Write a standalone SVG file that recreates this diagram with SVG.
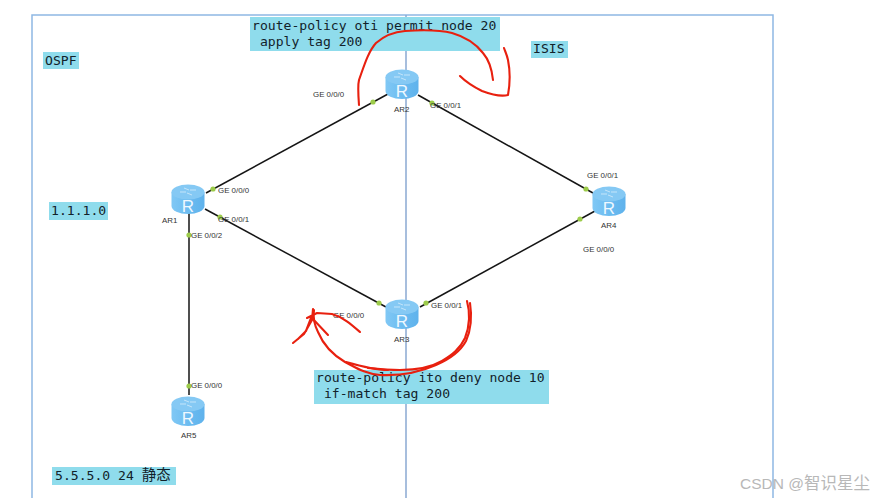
<svg xmlns="http://www.w3.org/2000/svg" width="874" height="498" viewBox="0 0 874 498">
<style>
.frame{stroke:#8fb8e4;stroke-width:1.5;fill:none}
.box{fill:#8fdcec}
.mono{font-family:"DejaVu Sans Mono","Liberation Mono","Noto Sans CJK SC",monospace;font-size:13.1px;fill:#12222a}
.cjk{font-size:14.5px}
.lbl{font-family:"Liberation Sans",Arial,sans-serif;font-size:7.9px;fill:#333}
.link{stroke:#151515;stroke-width:1.5;fill:none}
.dot{fill:#9ccb4a}
.red{stroke:#e8200f;stroke-width:2.1;fill:none;stroke-linecap:round;stroke-linejoin:round}
.body{fill:url(#cyl)}
.top{fill:#85c9f4}
.r{font-family:"Liberation Sans",Arial,sans-serif;font-size:17px;fill:#eef8ff;text-anchor:middle}
.swirl{stroke:#c4e5fa;stroke-width:1;fill:none}
.wm{font-family:"Liberation Sans","Noto Sans CJK SC",sans-serif;font-size:15.500px;fill:#b8b8b8}
.wmc{font-size:16.500px}
</style>
<defs>
<linearGradient id="cyl" x1="0" x2="1" y1="0" y2="0"><stop offset="0" stop-color="#80c8f5"/><stop offset=".5" stop-color="#6cbcf0"/><stop offset="1" stop-color="#5fb2ec"/></linearGradient>
<g id="router">
<path class="body" d="M-16.500-7V7A16.500 8 0 0 0 16.500 7V-7Z"/>
<ellipse class="top" cx="0" cy="-7" rx="16.500" ry="7.500"/>
<path class="swirl" d="M-8-7H-2M2-9H8M-4-11L1-9M4-4L-1-6"/>
<text class="r" x="0" y="13">R</text>
</g>
</defs>
<rect width="874" height="498" fill="#fff"/>
<g id="frame">
<path class="frame" d="M32 498V15H773V498"/>
<path d="M406 15V498" stroke="#8aa9d2" stroke-width="1.500" fill="none"/>
</g>
<g id="connectors">
<path class="link" d="M206 193L388 94"/>
<path class="link" d="M418 95L593 193"/>
<path class="link" d="M205 209L386 307"/>
<path class="link" d="M420 307L595 211"/>
<path class="link" d="M189 213V395"/>
<circle class="dot" cx="373" cy="102" r="2.600"/><circle class="dot" cx="432" cy="103" r="2.600"/>
<circle class="dot" cx="213" cy="189" r="2.600"/><circle class="dot" cx="220" cy="217" r="2.600"/>
<circle class="dot" cx="189" cy="235" r="2.600"/><circle class="dot" cx="586" cy="189" r="2.600"/>
<circle class="dot" cx="580" cy="219" r="2.600"/><circle class="dot" cx="379" cy="303" r="2.600"/>
<circle class="dot" cx="426" cy="303" r="2.600"/><circle class="dot" cx="189" cy="386" r="2.600"/>
</g>
<g id="AR1"><use href="#router" x="188" y="199"/><text class="lbl" x="162" y="223">AR1</text></g>
<g id="AR2"><use href="#router" x="402" y="84"/><text class="lbl" x="394" y="112">AR2</text></g>
<g id="AR3"><use href="#router" x="402" y="314"/><text class="lbl" x="394" y="342">AR3</text></g>
<g id="AR4"><use href="#router" x="609" y="201"/><text class="lbl" x="601" y="228">AR4</text></g>
<g id="AR5"><use href="#router" x="188" y="411"/><text class="lbl" x="181" y="438">AR5</text></g>
<g id="port-labels">
<text class="lbl" x="313" y="97">GE 0/0/0</text><text class="lbl" x="430" y="108">GE 0/0/1</text>
<text class="lbl" x="218" y="193">GE 0/0/0</text><text class="lbl" x="218" y="222">GE 0/0/1</text>
<text class="lbl" x="191" y="238">GE 0/0/2</text><text class="lbl" x="587" y="178">GE 0/0/1</text>
<text class="lbl" x="583" y="252">GE 0/0/0</text><text class="lbl" x="333" y="318">GE 0/0/0</text>
<text class="lbl" x="431" y="308">GE 0/0/1</text><text class="lbl" x="191" y="388">GE 0/0/0</text>
</g>
<g id="note-top"><rect class="box" x="250" y="17" width="250" height="34"/><text class="mono" x="252" y="30">route-policy oti permit node 20</text><text class="mono" x="252" y="46" xml:space="preserve"> apply tag 200</text></g>
<g id="note-isis"><rect class="box" x="531" y="41" width="37" height="17"/><text class="mono" x="533" y="53">ISIS</text></g>
<g id="note-ospf"><rect class="box" x="43" y="52" width="36" height="17"/><text class="mono" x="45" y="65">OSPF</text></g>
<g id="note-net1"><rect class="box" x="49" y="202" width="59" height="18"/><text class="mono" x="51" y="215">1.1.1.0</text></g>
<g id="note-net5"><rect class="box" x="52" y="467" width="124" height="18"/><text class="mono" x="55" y="480">5.5.5.0 24 <tspan class="cjk">静态</tspan></text></g>
<g id="note-bottom"><rect class="box" x="314" y="370" width="235" height="34"/><text class="mono" x="316" y="382">route-policy ito deny node 10</text><text class="mono" x="316" y="398" xml:space="preserve"> if-match tag 200</text></g>
<g id="annotations">
<path class="red" d="M359 105C358 92 358 84 359 80C364 66 368 52 376 43C384 36 392 32 405 31C420 30 440 30 452 33C466 37 476 44 483 53C489 60 492 70 493 80"/>
<path class="red" d="M460 76C466 82 474 87 482 91C490 94 500 97 508 95C510 84 510 70 508 60C507 55 505 51 504 48"/>
<path class="red" d="M467 301C470 312 470 325 465 338C460 349 452 355 442 361C430 368 415 370 400 370C388 370 378 369 368 368"/>
<path class="red" d="M470 303C472 316 471 330 466 341C460 352 450 359 436 365C420 372 400 376 380 375C365 374 355 367 345 362C333 355 323 344 318 332C314 324 313 316 314 310"/>
<path class="red" d="M313 309L312 320L304 334L293 343M311 318L306 331L298 339M312 318L328 335M307 318L317 313L332 314C343 317 352 325 360 332M346 362C360 366 375 370 388 370"/>
</g>
<text id="watermark" class="wm" x="740" y="489">CSDN @<tspan class="wmc">智识星尘</tspan></text>
</svg>
